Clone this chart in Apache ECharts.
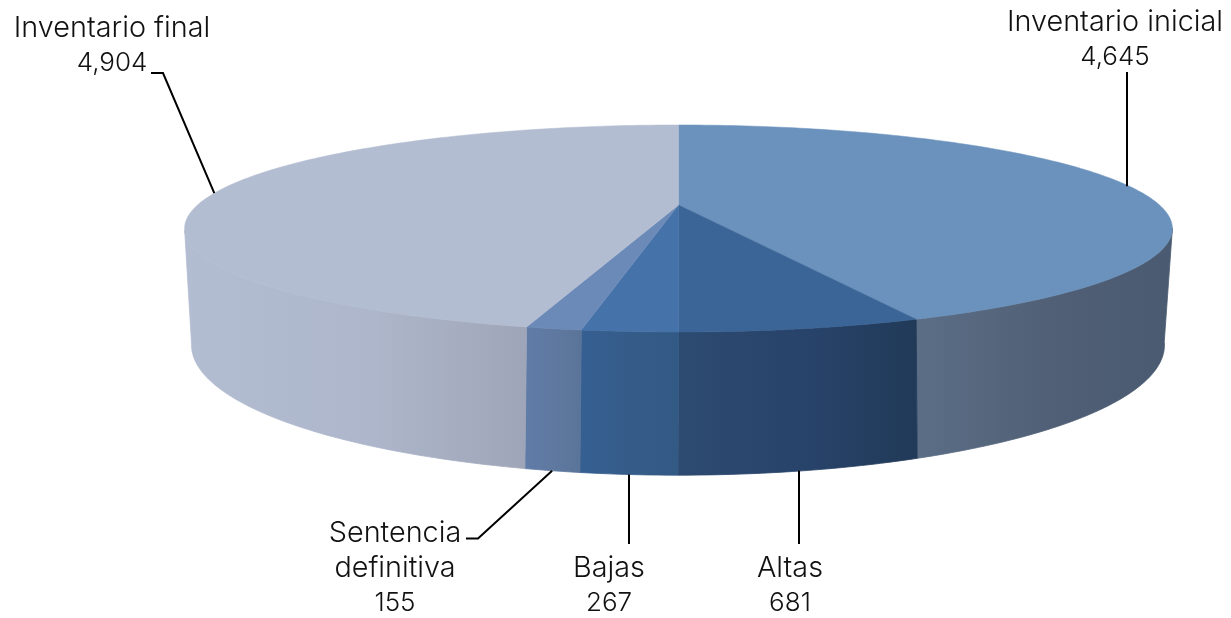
<!DOCTYPE html>
<html>
<head>
<meta charset="utf-8">
<style>html,body{margin:0;padding:0;background:#fff}#c{width:1231px;height:618px}</style>
<script src="https://cdn.jsdelivr.net/npm/echarts@6/dist/echarts.min.js"></script>
</head>
<body>
<div id="c"></div>
<script>
// Data (clockwise from 12 o'clock)
const categories = ['Inventario inicial', 'Altas', 'Bajas', 'Sentencia definitiva', 'Inventario final'];
const values = [4645, 681, 267, 155, 4904];
const valueLabels = ['4,645', '681', '267', '155', '4,904'];

// Styles
const topColors = ['#6b92bd', '#3b6596', '#4572a8', '#6b8ab8', '#b3bdd1'];
const sideColors = [
  ['#5b6e86', '#505f75', '#4a5a70'],
  ['#2d4a70', '#28436a', '#213a58'],
  ['#365f92', '#355c88', '#335a85'],
  ['#5f7ca8', '#5f789f', '#5a7499'],
  ['#b3bdd1', '#adb6ca', '#9fa5b8']
];
const NAME_FONT = '300 28.8px Inter, Lato, sans-serif';
const VALUE_FONT = '300 26px Inter, Lato, sans-serif';

// Perspective model of the disc
const topDisc = {cx: 678.5, cy: 205, rx: 481, ry: 98.2, k: 0.227};
const botDisc = {cx: 678, cy: 312.5, rx: 471, ry: 122, k: 0.25};
const FRONT_FROM = 103, FRONT_TO = 256;

// Layout of the labels and leaders
const labelLines = [
  [{t: 0, x: 1115, y: 22}, {t: 1, x: 1115, y: 57}],
  [{t: 0, x: 790, y: 568}, {t: 1, x: 790, y: 603}],
  [{t: 0, x: 609, y: 568}, {t: 1, x: 609, y: 603}],
  [{t: 'Sentencia', x: 395, y: 533}, {t: 'definitiva', x: 395, y: 568}, {t: 1, x: 395, y: 603}],
  [{t: 0, x: 112, y: 28}, {t: 1, x: 112, y: 63}]
];
const leaderStarts = [
  [[1127, 72]],
  [[799, 544]],
  [[629, 544]],
  [[466, 538.5], [478, 538.5]],
  [[151, 73], [163, 73]]
];
const leaderOnTop = [true, false, false, false, true];

const total = values.reduce((a, b) => a + b, 0);
const angles = [];
values.reduce((acc, v, i) => { angles[i] = [acc / total * 360, (acc + v) / total * 360]; return acc + v; }, 0);

function project(d, deg) {
  const a = deg * Math.PI / 180, X = Math.sin(a), Y = -Math.cos(a), w = 1 / (1 - d.k * Y);
  return [d.cx + d.rx * X * w, d.cy + d.ry * Y * w];
}
function arc(d, a0, a1) {
  const pts = [], n = Math.max(2, Math.ceil(Math.abs(a1 - a0)));
  for (let i = 0; i <= n; i++) pts.push(project(d, a0 + (a1 - a0) * i / n));
  return pts;
}
function renderSlice(params, api) {
  const i = params.dataIndex, a0 = angles[i][0], a1 = angles[i][1];
  const children = [];
  const s0 = Math.max(a0, FRONT_FROM), s1 = Math.min(a1, FRONT_TO);
  if (s1 > s0) {
    const sc = sideColors[i];
    const grad = () => new echarts.graphic.LinearGradient(0, 0, 1, 0, [
      {offset: 0, color: sc[0]},
      {offset: 0.55, color: sc[1]},
      {offset: 1, color: sc[2]}
    ]);
    children.push({
      type: 'polygon',
      shape: {points: arc(topDisc, s0, s1).concat(arc(botDisc, s1, s0))},
      style: {fill: grad(), stroke: grad(), lineWidth: 0.8}
    });
  }
  const topPts = [[topDisc.cx, topDisc.cy]].concat(arc(topDisc, a0, a1));
  children.push({
    type: 'polygon', z2: 2,
    shape: {points: topPts},
    style: {fill: topColors[i], stroke: topColors[i], lineWidth: 0.5}
  });
  return {type: 'group', children};
}
function renderLabel(params, api) {
  const i = params.dataIndex, mid = (angles[i][0] + angles[i][1]) / 2;
  const anchor = project(leaderOnTop[i] ? topDisc : botDisc, mid);
  const starts = leaderStarts[i];
  if (starts.length === 1) anchor[0] = starts[0][0];
  const children = [{
    type: 'polyline',
    shape: {points: starts.concat([anchor])},
    style: {stroke: '#000', lineWidth: 2, fill: null}
  }];
  labelLines[i].forEach(l => {
    const isValue = l.t === 1;
    const text = l.t === 0 ? categories[i] : isValue ? valueLabels[i] : l.t;
    children.push({
      type: 'text',
      style: {text, x: l.x, y: l.y, align: 'center', verticalAlign: 'middle', font: isValue ? VALUE_FONT : NAME_FONT, fill: '#111'}
    });
  });
  return {type: 'group', children};
}
const chart = echarts.init(document.getElementById('c'), null, {renderer: 'canvas'});
chart.setOption({
  animation: false,
  backgroundColor: '#fff',
  series: [
    {type: 'custom', coordinateSystem: 'none', data: values, renderItem: renderSlice, z: 1, silent: true},
    {type: 'custom', coordinateSystem: 'none', data: values, renderItem: renderLabel, z: 2, silent: true}
  ]
});
</script>
</body>
</html>
